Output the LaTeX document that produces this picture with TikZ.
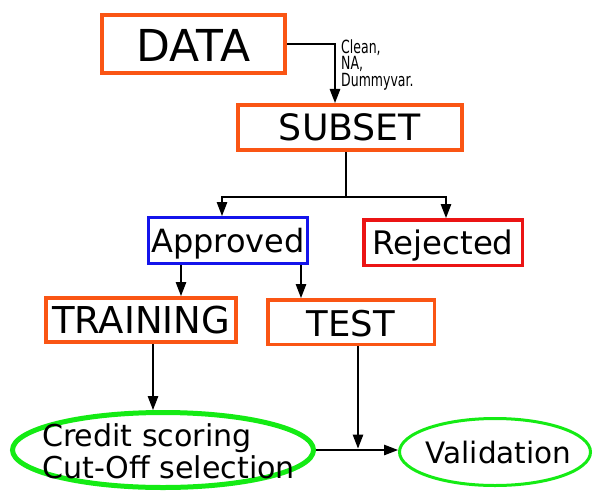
\documentclass[tikz,border=0pt]{standalone}
\usepackage{fontspec}
\setmainfont{DejaVu Sans}
\usetikzlibrary{arrows.meta,shapes.geometric}
\definecolor{boxorange}{RGB}{250,85,20}
\definecolor{boxblue}{RGB}{20,20,235}
\definecolor{boxred}{RGB}{235,20,20}
\definecolor{ovalgreen}{RGB}{20,235,20}
\tikzset{
  box/.style={draw=boxorange, rectangle, inner sep=0pt, line width=4pt, text depth=0pt},
  oval/.style={draw=ovalgreen, ellipse, inner sep=0pt},
  ovaltext/.style={inner sep=0pt, align=left},
  arr/.style={-{Triangle[length=14pt,width=10.5pt]}, line width=1.3pt, black},
  link/.style={line width=1.3pt, black}
}
\begin{document}
\begin{tikzpicture}[x=1pt,y=-1pt]
\useasboundingbox (0,0) rectangle (593,492);

% boxes
\node[box, minimum width=183pt, minimum height=58pt, font=\fontsize{44}{48}\selectfont] (data) at (193.5,44) {\raisebox{-3pt}{DATA}};
\node[box, minimum width=224pt, minimum height=45pt, font=\fontsize{36.3}{40}\selectfont] (subset) at (350,127.5) {SUBSET};
\node[box, draw=boxblue, line width=3pt, minimum width=159pt, minimum height=46pt, font=\fontsize{32}{35}\selectfont] (approved) at (228,240.5) {Approved};
\node[box, draw=boxred, line width=3.5pt, minimum width=158.5pt, minimum height=45.5pt, font=\fontsize{32.4}{35}\selectfont] (rejected) at (443,242.5) {Rejected};
\node[box, minimum width=190pt, minimum height=44pt, font=\fontsize{37}{40}\selectfont] (training) at (141,320) {TRAINING};
\node[box, line width=3.5pt, minimum width=166.5pt, minimum height=44.5pt, font=\fontsize{35.4}{38}\selectfont] (test) at (351,322) {\raisebox{-3pt}{TEST}};

% ovals and their texts
\node[oval, line width=5pt, minimum width=301pt, minimum height=75pt] (credit) at (163,450) {};
\node[ovaltext, anchor=west, font=\fontsize{30.1}{32}\selectfont] (creditText) at (42,451) {Credit scoring\\Cut-Off selection};
\node[oval, line width=3pt, minimum width=191pt, minimum height=67pt] (valid) at (495,452) {};
\node[ovaltext, anchor=base, font=\fontsize{29.5}{32}\selectfont] (validText) at (498.5,463) {Validation};

% note on the first step
\node[anchor=north west, inner sep=0pt, align=left, yscale=1.45, font=\fontsize{12.5}{8.4}\selectfont] (note) at (341,39) {Clean,\\NA,\\Dummyvar.};

% connectors
\path ([xshift=-15pt]subset.north) coordinate (sIn);
\draw[arr] (data.east) -| (sIn);

\path ([xshift=-4pt]subset.south) coordinate (sOut);
\path (sOut) ++(0,45) coordinate (split);
\path ([xshift=-6pt]approved.north) coordinate (aIn);
\path ([xshift=3pt]rejected.north) coordinate (rIn);
\draw[link] (sOut) -- (split);
\draw[arr] (split) -| (aIn);
\draw[arr] (split) -| (rIn);

\path ([xshift=-47pt]approved.south) coordinate (aL);
\path ([xshift=73pt]approved.south) coordinate (aR);
\draw[arr] (aL) -- (aL |- training.north);
\draw[arr] (aR) -- (aR |- test.north);

\path ([xshift=12pt]training.south) coordinate (tOut);
\draw[arr] (tOut) -- (tOut |- credit.north);

\path ([xshift=7pt]test.south) coordinate (eOut);
\draw[arr] (eOut) -- ([yshift=1.5pt]eOut |- credit.east);

\draw[arr] (credit.east) -- (credit.east -| valid.west);
\end{tikzpicture}
\end{document}
